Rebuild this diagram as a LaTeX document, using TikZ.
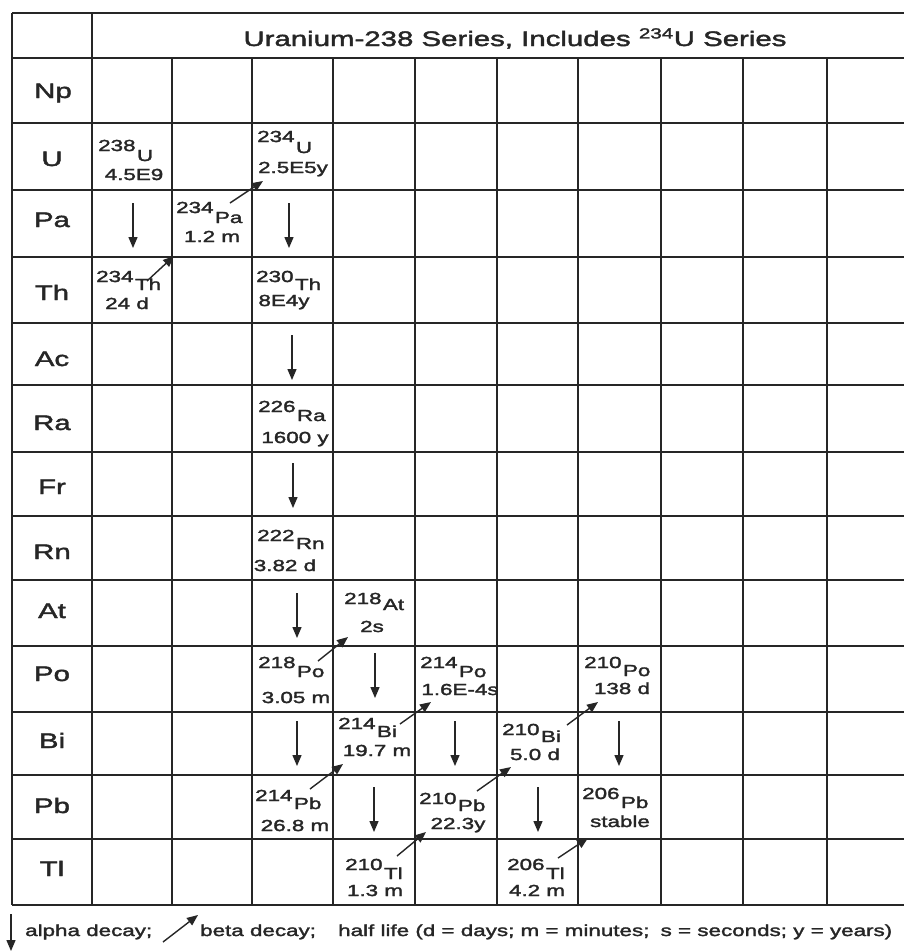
\documentclass[tikz,border=0pt]{standalone}
\usepackage{fontspec}
\setmainfont{Liberation Sans}[FakeStretch=1.4,FakeBold=2]
\usetikzlibrary{arrows.meta}
\definecolor{ink}{HTML}{262626}
\newcommand\smallfnt{\fontsize{16}{19}\selectfont}
\newcommand\bigfnt{\fontsize{21}{25}\selectfont}
\begin{document}
\begin{tikzpicture}[x=1pt,y=-1pt,
  gridline/.style={draw=ink,line width=2.4pt},
  rowlabel/.style={anchor=base,font=\bigfnt,text=ink,inner sep=0pt},
  titletext/.style={anchor=base,font=\bigfnt,text=ink,inner sep=0pt},
  massnum/.style={anchor=base west,font=\smallfnt,text=ink,inner sep=0pt},
  elsym/.style={anchor=base west,font=\smallfnt,text=ink,inner sep=0pt},
  halflife/.style={anchor=base,font=\smallfnt,text=ink,inner sep=0pt},
  legendtext/.style={anchor=base west,font=\smallfnt,text=ink,inner sep=0pt},
  alphadecay/.style={draw=ink,line width=1.4pt,-{Triangle[length=11pt,width=9pt]}},
  betadecay/.style={draw=ink,line width=1.4pt,-{Triangle[length=11pt,width=9pt]}}]
\useasboundingbox (0,0) rectangle (904,951);
\fill[white] (0,0) rectangle (904,951);
% grid
\draw[gridline] (12,13) -- (904,13);
\draw[gridline] (12,58) -- (904,58);
\foreach \yy in {123,190,257,323,385,452,516,580,646,712,775,839}
  \draw[gridline] (12,\yy) -- (904,\yy);
\draw[gridline] (12,905) -- (904,905);
\draw[gridline] (12,13) -- (12,905);
\draw[gridline] (92,13) -- (92,905);
\foreach \xx in {172,252,333,415,497,578,661,743,827}
  \draw[gridline] (\xx,58) -- (\xx,905);
% title
\node[titletext] (title) at (515,46) {Uranium-238 Series, Includes \textsuperscript{234}U Series};
% row labels
\node[rowlabel] (lNp) at (53,98) {Np};
\node[rowlabel] (lU)  at (52,166) {U};
\node[rowlabel] (lPa) at (52,227) {Pa};
\node[rowlabel] (lTh) at (52,300) {Th};
\node[rowlabel] (lAc) at (52,366) {Ac};
\node[rowlabel] (lRa) at (52,430) {Ra};
\node[rowlabel] (lFr) at (52,494) {Fr};
\node[rowlabel] (lRn) at (52,559) {Rn};
\node[rowlabel] (lAt) at (52,618) {At};
\node[rowlabel] (lPo) at (52,681) {Po};
\node[rowlabel] (lBi) at (52,748) {Bi};
\node[rowlabel] (lPb) at (52,813) {Pb};
\node[rowlabel] (lTl) at (52,876) {Tl};
% nuclides: name / mass x / mass baseline / mass / symbol / drop / half-life x / half-life baseline / half-life
\foreach \nn/\mx/\my/\mm/\ss/\dd/\hx/\hy/\hh in {
  u238/98/151/238/U/10/134/180/4.5E9,
  u234/257/142/234/U/11/293/173/2.5E5y,
  pa234/176/213/234/Pa/10/212/242/1.2 m,
  th234/96/282/234/Th/8/127/309/24 d,
  th230/256/282/230/Th/8/284/306/8E4y,
  ra226/258/412/226/Ra/9/295/443/1600 y,
  rn222/257/541/222/Rn/8/285/571/3.82 d,
  at218/344/604/218/At/6/372/632/2s,
  po218/258/668/218/Po/9/296/703/3.05 m,
  po214/420/668/214/Po/9/460/695/1.6E-4s,
  po210/584/668/210/Po/8/622/694/138 d,
  bi214/338/729/214/Bi/8/377/756/19.7 m,
  bi210/502/735/210/Bi/7/535/760/5.0 d,
  pb214/255/801/214/Pb/8/295/831/26.8 m,
  pb210/419/804/210/Pb/7/458/829/22.3y,
  pb206/582/799/206/Pb/9/620/827/stable,
  tl210/345/870/210/Tl/9/375/896/1.3 m,
  tl206/507/870/206/Tl/9/537/896/4.2 m}
{
  \node[massnum] (\nn) at (\mx,\my) {\mm};
  \node[elsym] (\nn-s) at ([xshift=1pt,yshift=-\dd pt]\nn.base east) {\ss};
  \node[halflife] (\nn-h) at (\hx,\hy) {\hh};
}
% alpha decay arrows
\coordinate (a1s) at (133,203); \coordinate (a1e) at (133,248);
\coordinate (a2s) at (289,203); \coordinate (a2e) at (289,248);
\coordinate (a3s) at (292,335); \coordinate (a3e) at (292,380);
\coordinate (a4s) at (293,463); \coordinate (a4e) at (293,508);
\coordinate (a5s) at (297,593); \coordinate (a5e) at (297,638);
\coordinate (a6s) at (375,653); \coordinate (a6e) at (375,698);
\coordinate (a7s) at (297,721); \coordinate (a7e) at (297,766);
\coordinate (a8s) at (455,721); \coordinate (a8e) at (455,766);
\coordinate (a9s) at (619,721); \coordinate (a9e) at (619,766);
\coordinate (a10s) at (374,787); \coordinate (a10e) at (374,832);
\coordinate (a11s) at (538,787); \coordinate (a11e) at (538,832);
\foreach \i in {1,...,11} \draw[alphadecay] (a\i s) -- (a\i e);
% beta decay arrows
\coordinate (b1s) at (147,281); \coordinate (b1e) at (174,256);
\coordinate (b2s) at (230,203); \coordinate (b2e) at (263,181);
\coordinate (b3s) at (318,661); \coordinate (b3e) at (348,637);
\coordinate (b4s) at (400,724); \coordinate (b4e) at (431,702);
\coordinate (b5s) at (567,725); \coordinate (b5e) at (598,702);
\coordinate (b6s) at (310,789); \coordinate (b6e) at (343,764);
\coordinate (b7s) at (477,791); \coordinate (b7e) at (511,767);
\coordinate (b8s) at (397,856); \coordinate (b8e) at (426,832);
\coordinate (b9s) at (558,858); \coordinate (b9e) at (588,838);
\foreach \i in {1,...,9} \draw[betadecay] (b\i s) -- (b\i e);
% legend
\coordinate (lgas) at (11,914); \coordinate (lgae) at (11,951);
\draw[alphadecay] (lgas) -- (lgae);
\node[legendtext] (lgat) at (25,936) {alpha decay;};
\coordinate (lgbs) at (163,942); \coordinate (lgbe) at (198,915);
\draw[betadecay] (lgbs) -- (lgbe);
\node[legendtext] (lgbt) at (200,936) {beta decay;};
\node[legendtext] (lght) at (338,936) {half life (d = days; m = minutes;\hspace{5pt} s = seconds; y = years)};
\end{tikzpicture}
\end{document}
